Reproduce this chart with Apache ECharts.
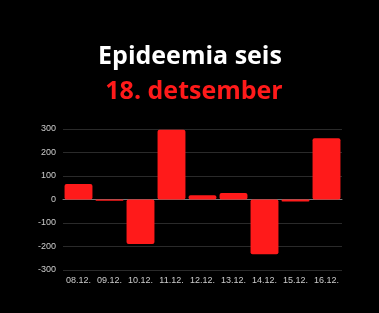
<!DOCTYPE html>
<html><head><meta charset="utf-8">
<script src="https://cdn.jsdelivr.net/npm/echarts@6/dist/echarts.min.js"></script>
<style>html,body{margin:0;padding:0;background:#000;}#c{width:379px;height:313px;}</style>
</head><body><div id="c"></div>
<script>
var categories = ['08.12.','09.12.','10.12.','11.12.','12.12.','13.12.','14.12.','15.12.','16.12.'];
var values = [66, -5, -189, 297, 18, 28, -233, -8, 261];
var yTicks = {min: -300, max: 300, interval: 100};
var titleLine1 = 'Epideemia seis';
var titleLine2 = '18. detsember';

var chart = echarts.init(document.getElementById('c'), null, {renderer: 'canvas'});
chart.setOption({
  backgroundColor: '#000',
  animation: false,
  title: [
    {text: titleLine1, left: 185, textAlign: 'center', top: 39,
     textStyle: {color: '#fff', fontFamily: 'Open Sans', fontWeight: 'bold', fontSize: 25}},
    {text: titleLine2, left: 189, textAlign: 'center', top: 74,
     textStyle: {color: '#ff1a1a', fontFamily: 'Open Sans', fontWeight: 'bold', fontSize: 25}}
  ],
  grid: {left: 63, right: 37, top: 129, bottom: 43},
  xAxis: {
    type: 'category', data: categories,
    axisLine: {onZero: true, lineStyle: {color: '#777', width: 1}},
    axisTick: {show: false},
    axisLabel: {color: '#ccc', fontSize: 9, fontFamily: 'Liberation Sans', margin: 6, interval: 0}
  },
  yAxis: {
    type: 'value', min: yTicks.min, max: yTicks.max, interval: yTicks.interval,
    axisLine: {show: false}, axisTick: {show: false},
    axisLabel: {color: '#ccc', fontSize: 9, fontFamily: 'Liberation Sans', margin: 7},
    splitLine: {lineStyle: {color: '#2a2a2a', width: 1}}
  },
  series: [{
    type: 'bar', data: values, barCategoryGap: '10%',
    itemStyle: {color: '#ff1a1a', borderRadius: 2}
  }]
});
</script></body></html>
